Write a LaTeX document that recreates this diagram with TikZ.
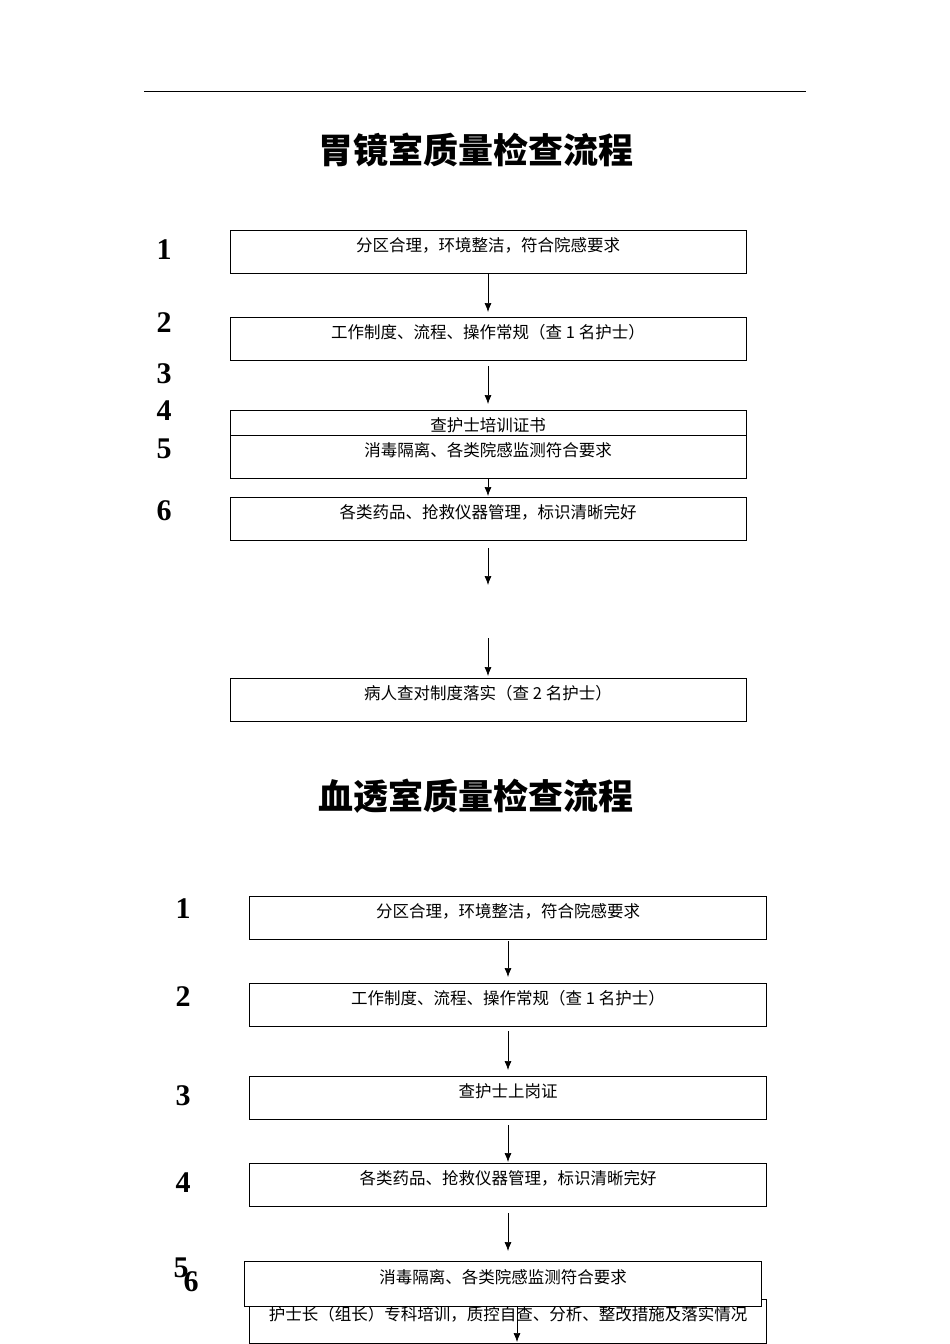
\documentclass[tikz,border=0pt]{standalone}
\usepackage{fontspec}
\setmainfont{Liberation Serif}
\newfontfamily\cjk{Noto Sans CJK SC}
\usetikzlibrary{arrows.meta}
\begin{document}
\begin{tikzpicture}[x=1pt,y=-1pt,
 box/.style={draw,line width=0.8pt,fill=white},
 txt/.style={font=\cjk\fontsize{16.5}{16.5}\selectfont,anchor=center},
 num/.style={font=\bfseries\fontsize{30}{30}\selectfont},
 ttl/.style={font=\cjk\bfseries\fontsize{35}{35}\selectfont},
 arr/.style={-{Latex[length=9pt,width=7pt]},line width=0.7pt}]
\useasboundingbox (0,0) rectangle (950,1344);
\draw[line width=0.8pt] (144,91) -- (806,91);
\node[ttl] (t1) at (476,150) {胃镜室质量检查流程};
% top section
\foreach \n/\y in {1/250,2/323,3/374,4/411,5/449,6/511}{\node[num] (a\n) at (164,\y) {\n};}
\draw[box] (230,230) rectangle (746,273); \node[txt] (b1) at (488,245) {分区合理，环境整洁，符合院感要求};
\draw[box] (230,317) rectangle (746,360); \node[txt] (b2) at (488,332) {工作制度、流程、操作常规（查 1 名护士）};
\draw[box] (230,410) rectangle (746,435); \node[txt] (b3) at (488,425) {查护士培训证书};
\draw[box] (230,435) rectangle (746,478); \node[txt] (b4) at (488,450) {消毒隔离、各类院感监测符合要求};
\draw[box] (230,497) rectangle (746,540); \node[txt] (b5) at (488,512) {各类药品、抢救仪器管理，标识清晰完好};
\draw[box] (230,678) rectangle (746,721); \node[txt] (b6) at (488,693) {病人查对制度落实（查 2 名护士）};
\coordinate (p1) at (488,273); \coordinate (q1) at (488,312);
\coordinate (p2) at (488,366); \coordinate (q2) at (488,404);
\coordinate (p3) at (488,478); \coordinate (q3) at (488,496);
\coordinate (p4) at (488,548); \coordinate (q4) at (488,585);
\coordinate (p5) at (488,638); \coordinate (q5) at (488,676);
\foreach \i in {1,...,5}{\draw[arr] (p\i) -- (q\i);}
% bottom section
\node[ttl] (t2) at (476,796) {血透室质量检查流程};
\foreach \n/\y in {1/909,2/997,3/1096,4/1183}{\node[num] (c\n) at (183,\y) {\n};}
\node[num] (c5) at (181,1268) {5};
\node[num] (c6) at (191,1282) {6};
\draw[box] (249,896) rectangle (766,939); \node[txt] (d1) at (508,911) {分区合理，环境整洁，符合院感要求};
\draw[box] (249,983) rectangle (766,1026); \node[txt] (d2) at (508,998) {工作制度、流程、操作常规（查 1 名护士）};
\draw[box] (249,1076) rectangle (766,1119); \node[txt] (d3) at (508,1091) {查护士上岗证};
\draw[box] (249,1163) rectangle (766,1206); \node[txt] (d4) at (508,1178) {各类药品、抢救仪器管理，标识清晰完好};
\draw[box] (249,1299) rectangle (766,1343); \node[txt] (d6) at (508,1314) {护士长（组长）专科培训，质控自查、分析、整改措施及落实情况};
\draw[box] (244,1261) rectangle (761,1306); \node[txt] (d5) at (503,1277) {消毒隔离、各类院感监测符合要求};
\coordinate (r1) at (508,941); \coordinate (s1) at (508,977);
\coordinate (r2) at (508,1031); \coordinate (s2) at (508,1070);
\coordinate (r3) at (508,1125); \coordinate (s3) at (508,1162);
\coordinate (r4) at (508,1213); \coordinate (s4) at (508,1251);
\coordinate (r5) at (517,1306); \coordinate (s5) at (517,1342);
\foreach \i in {1,...,5}{\draw[arr] (r\i) -- (s\i);}
\end{tikzpicture}
\end{document}
